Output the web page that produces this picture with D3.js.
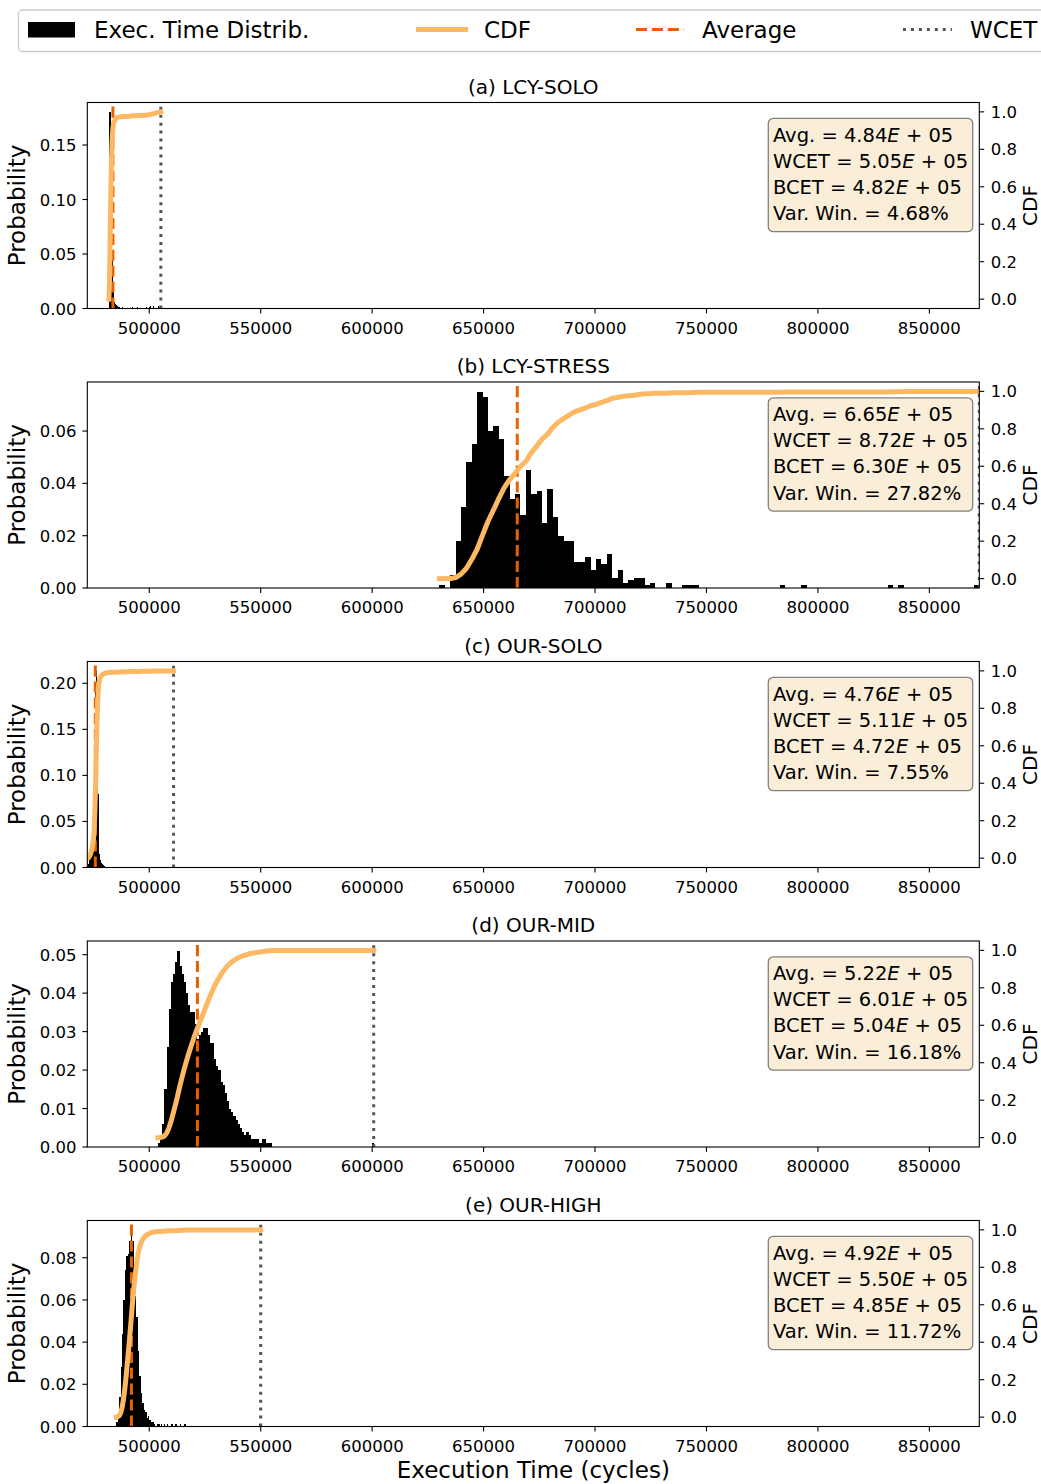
<!DOCTYPE html>
<html><head><meta charset="utf-8">
<script src="https://cdn.jsdelivr.net/npm/d3@7"></script>
<style>
body{margin:0;background:#fff}
svg{display:block}
text{font-family:"DejaVu Sans",sans-serif;fill:#000}
</style>
</head><body>
<svg id="chart" width="1041" height="1484"></svg>
<script>
// ---------------- DATA ----------------
const titles   = ["(a) LCY-SOLO", "(b) LCY-STRESS", "(c) OUR-SOLO", "(d) OUR-MID", "(e) OUR-HIGH"];
const bcet     = [481900, 630200, 472200, 503900, 485200];
const wcet     = [505200, 872400, 510900, 600700, 550000];
const avg      = [483700, 665100, 475800, 521600, 492000];
const avgText  = ["4.84", "6.65", "4.76", "5.22", "4.92"];
const wcetText = ["5.05", "8.72", "5.11", "6.01", "5.50"];
const bcetText = ["4.82", "6.30", "4.72", "5.04", "4.85"];
const varWin   = ["4.68", "27.82", "7.55", "16.18", "11.72"];
const nBins = 100;
const nSamples = 1000;

// histogram counts per bin: [bin index, count]
const countsA = [[0,80],[1,180],[2,180],[3,170],[4,130],[5,90],[6,50],[7,30],[8,15],[9,10],[10,6],[11,5],[12,4],[13,3],[14,3],[15,2],[16,2],
  [18,1],[20,1],[25,1],[30,1],[38,1],[40,1],[42,1],[45,1],[55,1],[65,1],[72,1],[75,2],[78,1],[80,2],[82,1],[85,2],[88,2],[90,2],[92,1],[95,2],[97,1],[99,1]];
const countsB = [[0,1],[2,5],[3,18],[4,31],[5,48],[6,55],[7,75],[8,73],[9,60],[10,62],[11,57],[12,43],[13,34],[14,36],[15,28],[16,45],[17,36],[18,37],[19,25],
  [20,38],[21,27],[22,20],[23,18],[24,18],[25,10],[26,10],[27,12],[28,7],[29,11],[30,9],[31,13],[32,4],[33,7],[34,2],[35,3],[36,4],[37,4],[38,1],[39,2],
  [42,2],[45,1],[46,1],[47,1],[63,1],[67,1],[83,1],[85,1],[99,1]];
const countsC = [[0,2],[1,4],[2,8],[3,12],[4,16],[5,22],[6,30],[7,60],[8,125],[9,190],[10,213],[11,160],[12,80],[13,30],[14,15],[15,8],[16,5],[17,4],[18,3],
  [19,2],[20,2],[21,1],[22,1],[24,1],[26,1],[30,1],[35,1],[40,1],[48,1],[55,1],[62,1],[75,1],[99,1]];
const countsD = [[0,1],[1,2],[2,6],[3,15],[4,26],[5,36],[6,43],[7,45],[8,48],[9,51],[10,47],[11,45],[12,43],[13,40],[14,37],[15,35],[16,35],[17,32],[18,28],[19,29],
  [20,30],[21,31],[22,31],[23,29],[24,27],[25,27],[26,23],[27,21],[28,20],[29,17],[30,16],[31,14],[32,12],[33,10],[34,9],[35,8],[36,7],[37,6],[38,5],[39,4],
  [40,3],[41,4],[42,3],[43,2],[44,2],[45,2],[46,2],[47,1],[48,2],[49,2],[50,1],[51,1],[52,1],[99,1]];
const countsE = [[0,2],[1,5],[2,14],[3,28],[4,44],[5,60],[6,74],[7,81],[8,82],[9,88],[10,93],[11,88],[12,70],[13,62],[14,52],[15,36],[16,24],[17,16],[18,11],[19,8],
  [20,7],[21,4],[22,5],[23,3],[24,2],[25,2],[26,1],[28,1],[29,1],[31,1],[33,1],[35,1],[38,1],[41,1],[44,1],[47,1],[99,1]];
const allCounts = [countsA, countsB, countsC, countsD, countsE];

const xTicks = [500000, 550000, 600000, 650000, 700000, 750000, 800000, 850000];
const yTicks = [
  [0, 0.05, 0.10, 0.15],
  [0, 0.02, 0.04, 0.06],
  [0, 0.05, 0.10, 0.15, 0.20],
  [0, 0.01, 0.02, 0.03, 0.04, 0.05],
  [0, 0.02, 0.04, 0.06, 0.08]
];
const cdfTicks = [0, 0.2, 0.4, 0.6, 0.8, 1.0];
const legendLabels = ["Exec. Time Distrib.", "CDF", "Average", "WCET"];

// ---------------- STYLE / LAYOUT ----------------
const C_CDF = "#fdb863", C_AVG = "#e66101", C_WCET = "#555555";
const L = 87.3, R = 979.3, B0 = 308.5, STEP = 279.5, H = 206;
const TICK = 4.9;

const svg = d3.select("#chart");
const x = d3.scaleLinear().domain([d3.min(bcet), d3.max(wcet)]).range([L, R]);

// ---------------- LEGEND ----------------
const lg = svg.append("g");
lg.append("rect").attr("x", 18.5).attr("y", 10).attr("width", 1040).attr("height", 41.5)
  .attr("rx", 4).attr("fill", "#fff").attr("stroke", "#cccccc").attr("stroke-width", 1.3);
lg.append("rect").attr("x", 28).attr("y", 22).attr("width", 47).attr("height", 15.5).attr("fill", "#000");
lg.append("line").attr("x1", 416).attr("x2", 468).attr("y1", 29.5).attr("y2", 29.5)
  .attr("stroke", C_CDF).attr("stroke-width", 5);
lg.append("line").attr("x1", 636).attr("x2", 684).attr("y1", 29.5).attr("y2", 29.5)
  .attr("stroke", C_AVG).attr("stroke-width", 3).attr("stroke-dasharray", "11.1,4.8");
lg.append("line").attr("x1", 903).attr("x2", 952).attr("y1", 29.5).attr("y2", 29.5)
  .attr("stroke", C_WCET).attr("stroke-width", 3).attr("stroke-dasharray", "3,4.95");
[94, 484, 702, 970].forEach((lx, i) => {
  lg.append("text").attr("x", lx).attr("y", 37.5).attr("font-size", 23).text(legendLabels[i]);
});

// ---------------- PANELS ----------------
const fmt2 = d3.format(".2f"), fmt1 = d3.format(".1f");

titles.forEach((title, k) => {
  const bot = B0 + k * STEP, top = bot - H, mid = (top + bot) / 2;
  const counts = new Array(nBins).fill(0);
  allCounts[k].forEach(([b, c]) => { counts[b] = c; });
  const probs = counts.map(c => c / nSamples);
  const edges = d3.range(nBins + 1).map(i => bcet[k] + (wcet[k] - bcet[k]) * i / nBins);
  const total = d3.sum(counts);
  const cum = Array.from(d3.cumsum(counts));
  const cdfPts = [[edges[0], 0]].concat(cum.map((c, i) => [edges[i + 1], c / total]));

  const y = d3.scaleLinear().domain([0, d3.max(probs) * 1.05]).range([bot, top]);
  const y2 = d3.scaleLinear().domain([-0.05, 1.05]).range([bot, top]);

  const g = svg.append("g");
  const clipId = "clip" + k;
  g.append("clipPath").attr("id", clipId).append("rect")
    .attr("x", L).attr("y", top).attr("width", R - L).attr("height", H);
  const pg = g.append("g").attr("clip-path", `url(#${clipId})`);

  // histogram
  pg.append("g").attr("shape-rendering", "crispEdges")
    .selectAll("rect").data(probs.map((p, i) => ({p, i})).filter(d => d.p > 0))
    .enter().append("rect")
    .attr("x", d => x(edges[d.i]))
    .attr("width", d => Math.max(0.6, x(edges[d.i + 1]) - x(edges[d.i])))
    .attr("y", d => y(d.p))
    .attr("height", d => y(0) - y(d.p))
    .attr("fill", "#000");

  // average & WCET lines
  pg.append("line").attr("x1", x(avg[k])).attr("x2", x(avg[k])).attr("y1", bot).attr("y2", top)
    .attr("stroke", C_AVG).attr("stroke-width", 3).attr("stroke-dasharray", "11.1,4.8");
  pg.append("line").attr("x1", x(wcet[k])).attr("x2", x(wcet[k])).attr("y1", bot).attr("y2", top)
    .attr("stroke", C_WCET).attr("stroke-width", 3).attr("stroke-dasharray", "3,4.95");

  // CDF
  pg.append("path").datum(cdfPts)
    .attr("d", d3.line().x(d => x(d[0])).y(d => y2(d[1])))
    .attr("fill", "none").attr("stroke", C_CDF).attr("stroke-width", 5)
    .attr("stroke-linecap", "square").attr("stroke-linejoin", "round");

  // frame
  g.append("rect").attr("x", L).attr("y", top).attr("width", R - L).attr("height", H)
    .attr("fill", "none").attr("stroke", "#000").attr("stroke-width", 1.1);

  // x axis
  xTicks.forEach(t => {
    g.append("line").attr("x1", x(t)).attr("x2", x(t)).attr("y1", bot).attr("y2", bot + TICK)
      .attr("stroke", "#000").attr("stroke-width", 1.1);
    g.append("text").attr("x", x(t)).attr("y", bot + 25).attr("text-anchor", "middle")
      .attr("font-size", 16.5).text(t);
  });
  // left y axis
  yTicks[k].forEach(t => {
    g.append("line").attr("x1", L - TICK).attr("x2", L).attr("y1", y(t)).attr("y2", y(t))
      .attr("stroke", "#000").attr("stroke-width", 1.1);
    g.append("text").attr("x", L - 10.8).attr("y", y(t) + 6).attr("text-anchor", "end")
      .attr("font-size", 16.5).text(fmt2(t));
  });
  // right y axis
  cdfTicks.forEach(t => {
    g.append("line").attr("x1", R).attr("x2", R + TICK).attr("y1", y2(t)).attr("y2", y2(t))
      .attr("stroke", "#000").attr("stroke-width", 1.1);
    g.append("text").attr("x", R + 11.5).attr("y", y2(t) + 6).attr("text-anchor", "start")
      .attr("font-size", 16.5).text(fmt1(t));
  });

  // titles and labels
  g.append("text").attr("x", (L + R) / 2).attr("y", top - 9).attr("text-anchor", "middle")
    .attr("font-size", 20).text(title);
  g.append("text").attr("transform", `translate(25,${mid}) rotate(-90)`).attr("text-anchor", "middle")
    .attr("font-size", 23).text("Probability");
  g.append("text").attr("transform", `translate(1037,${mid}) rotate(-90)`).attr("text-anchor", "middle")
    .attr("font-size", 20).text("CDF");

  // info box
  const bx = 768.3, by = top + 15.8, tx = bx + 4.6;
  const box = g.append("g");
  const rect = box.append("rect").attr("x", bx).attr("y", by).attr("height", 113.4)
    .attr("rx", 5).attr("fill", "rgb(250,238,217)").attr("stroke", "#808080").attr("stroke-width", 1.3);
  const lines = [
    [["Avg. = " + avgText[k], false], ["E", true], [" + 05", false]],
    [["WCET = " + wcetText[k], false], ["E", true], [" + 05", false]],
    [["BCET = " + bcetText[k], false], ["E", true], [" + 05", false]],
    [["Var. Win. = " + varWin[k] + "%", false]]
  ];
  let maxW = 0;
  lines.forEach((parts, li) => {
    const t = box.append("text").attr("x", tx).attr("y", by + 23.4 + li * 26.1)
      .attr("font-size", 19.5).attr("xml:space", "preserve");
    parts.forEach(([s, it]) => {
      t.append("tspan").attr("font-style", it ? "italic" : "normal").text(s);
    });
    maxW = Math.max(maxW, t.node().getComputedTextLength());
  });
  rect.attr("width", maxW + 9.2);
});

// x label
svg.append("text").attr("x", (L + R) / 2).attr("y", 1478).attr("text-anchor", "middle")
  .attr("font-size", 23).text("Execution Time (cycles)");
</script>
</body></html>
